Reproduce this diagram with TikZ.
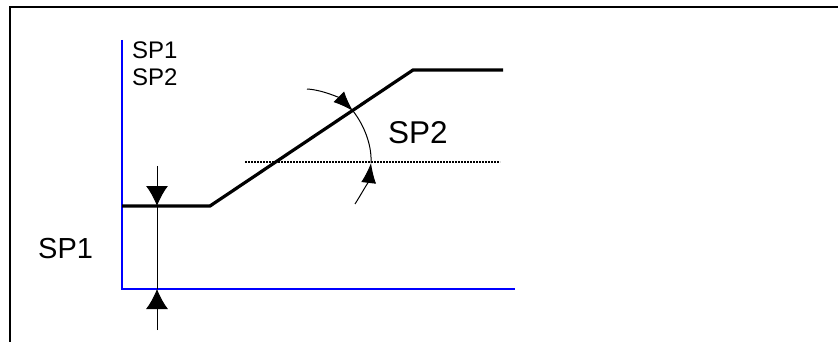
\documentclass[tikz,border=0pt]{standalone}
\usepackage{fontspec}
\setmainfont{Liberation Sans}
\usetikzlibrary{arrows.meta}
\definecolor{axisblue}{HTML}{0000FF}

\begin{document}
\begin{tikzpicture}[x=1pt, y=-1pt,
    lbl/.style={anchor=base west, inner sep=0pt, text depth=0pt, font=\fontsize{27}{32}\selectfont},
    dimtip/.style={-{Latex[length=20pt, width=22pt]}, line width=1pt},
    angtip/.style={-{Latex[length=20pt, width=15pt]}, line width=1pt}]
  \useasboundingbox (0,0) rectangle (838,342);
  % frame
  \draw[line width=2.4pt] (10,342) -- (10,7) -- (840,7);
  % axes
  \coordinate (ytop) at (122,40);
  \coordinate (origin) at (122,289);
  \coordinate (xend) at (515,289);
  \draw[axisblue, line width=2.8pt] (ytop) -- (origin) -- (xend);
  % setpoint profile
  \coordinate (p0) at (122,206);
  \coordinate (p1) at (210,206);
  \coordinate (p2) at (413,70);
  \coordinate (p3) at (503,70);
  \draw[line width=3.2pt] (p0) -- (p1) -- (p2) -- (p3);
  % reference line
  \coordinate (h0) at (245,162);
  \coordinate (h1) at (500,162);
  \draw[line width=1.5pt, dash pattern=on 2pt off 1pt] (h0) -- (h1);
  % SP1 dimension
  \coordinate (d0) at (157,166);
  \coordinate (dtop) at (157,206);
  \coordinate (dbot) at (157,289);
  \coordinate (d1) at (157,330);
  \draw[dimtip] (d0) -- (dtop);
  \draw[line width=1pt] (dtop) -- (dbot);
  \draw[dimtip] (d1) -- (dbot);
  % SP2 angle
  \coordinate (a0) at (307,89);
  \coordinate (atop) at (353,111);
  \coordinate (abot) at (371,163);
  \coordinate (a1) at (355,204);
  \draw[angtip] (a0) .. controls (324,90) and (341,99) .. (atop);
  \draw[line width=1pt] (atop) .. controls (364,125) and (372,145) .. (abot);
  \draw[angtip] (a1) .. controls (362,193) and (369,180) .. (abot);
  % labels
  \node[lbl, font=\fontsize{24}{27}\selectfont] (axis1) at (132,59) {SP1};
  \node[lbl, font=\fontsize{24}{27}\selectfont] (axis2) at (132,86) {SP2};
  \node[lbl, font=\fontsize{29}{34}\selectfont] (sp1) at (38,258) {SP1};
  \node[lbl, font=\fontsize{31.5}{36}\selectfont] (sp2) at (388,143) {SP2};
\end{tikzpicture}
\end{document}
